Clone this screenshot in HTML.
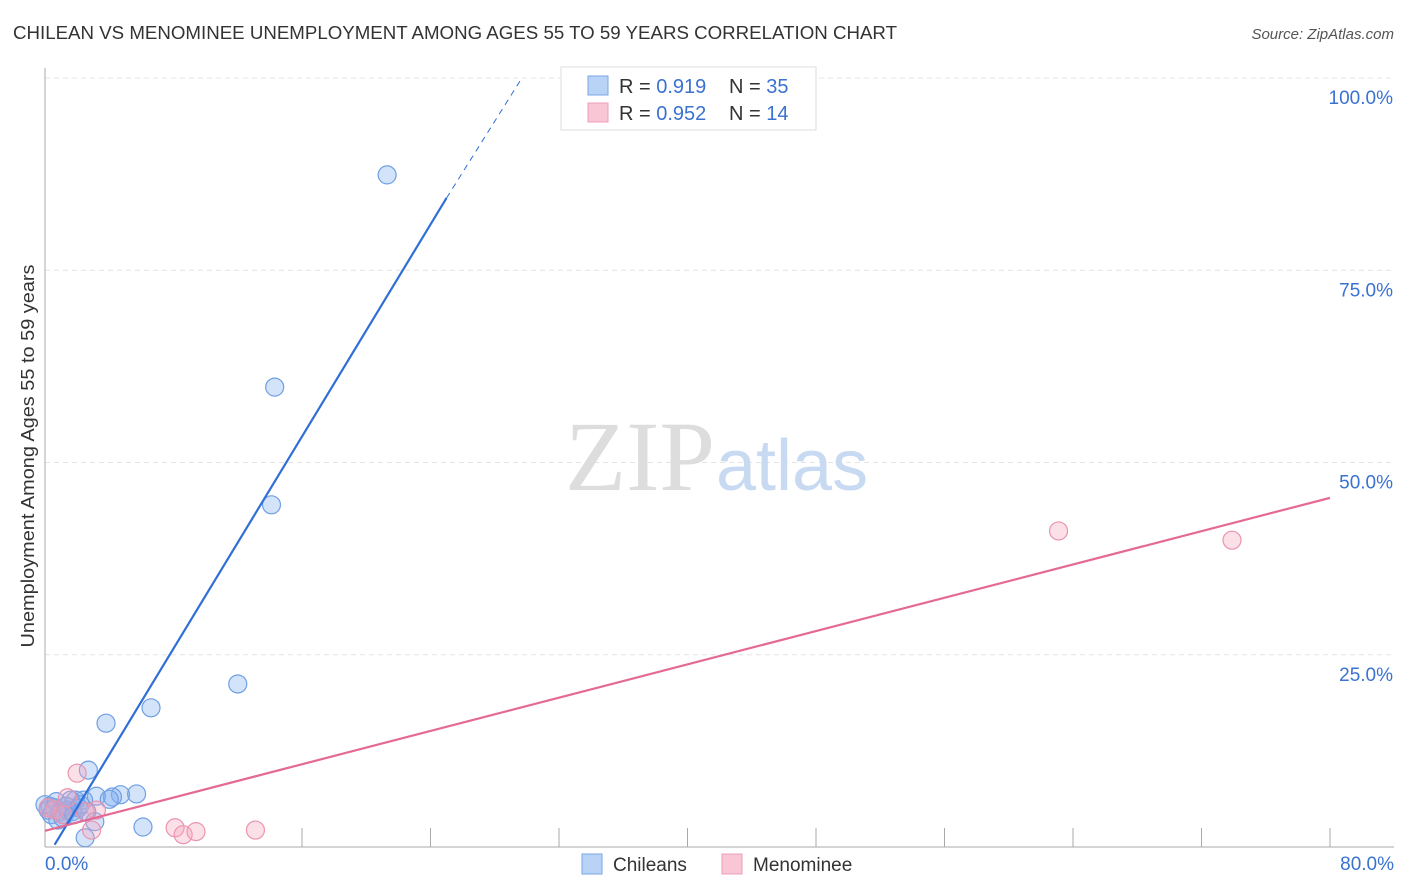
<!DOCTYPE html>
<html><head><meta charset="utf-8"><style>
body{margin:0;background:#fff;font-family:"Liberation Sans",sans-serif;}
svg{display:block}
</style></head><body>
<svg id="chart" width="1406" height="892">
<text x="13" y="39" font-size="18" fill="#333" textLength="884" lengthAdjust="spacingAndGlyphs">CHILEAN VS MENOMINEE UNEMPLOYMENT AMONG AGES 55 TO 59 YEARS CORRELATION CHART</text>
<text x="1394" y="39" font-size="15" fill="#555" font-style="italic" text-anchor="end">Source: ZipAtlas.com</text>
<text x="0" y="0" font-size="18" fill="#333" textLength="383" lengthAdjust="spacingAndGlyphs" transform="translate(34,456) rotate(-90)" text-anchor="middle">Unemployment Among Ages 55 to 59 years</text>
<g id="grid"></g>
<text x="715" y="490" font-size="100" fill="#ddd" text-anchor="end" font-family="Liberation Serif,serif">ZIP</text>
<text x="716" y="490" font-size="72" fill="#c8daf2">atlas</text>
<g id="marks"></g>
<g>
<rect x="561" y="67" width="255" height="63" fill="#fff" stroke="#ddd"/>
<rect x="588" y="76" width="20" height="19" fill="#b9d3f6" stroke="#7aa6e6"/>
<rect x="588" y="103" width="20" height="19" fill="#f9c6d5" stroke="#ee9fb7"/>
<text x="619" y="93" font-size="20" fill="#333">R = <tspan fill="#3a72d0">0.919</tspan><tspan x="729">N = </tspan><tspan fill="#3a72d0">35</tspan></text>
<text x="619" y="120" font-size="20" fill="#333">R = <tspan fill="#3a72d0">0.952</tspan><tspan x="729">N = </tspan><tspan fill="#3a72d0"> 14</tspan></text>
</g>
<g>
<rect x="582" y="854" width="20" height="20" fill="#b9d3f6" stroke="#7aa6e6"/>
<text x="613" y="871" font-size="19" fill="#333">Chileans</text>
<rect x="722" y="854" width="20" height="20" fill="#f9c6d5" stroke="#ee9fb7"/>
<text x="753" y="871" font-size="19" fill="#333">Menominee</text>
</g>
</svg>
<script>
const blueX=[21.3,14.3,14.1,12.0,6.6,3.8,2.7,5.7,4.7,4.2,3.2,4.0,2.4,1.9,1.6,6.1,3.1,2.5,0.3,0.6,0.9,1.2,0.2,0.4,0.8,1.1,1.4,1.7,2.1,0.0,0.7,1.3,1.8,2.2,2.6];
const blueY=[87.4,59.8,44.5,21.2,18.1,16.1,10.0,6.9,6.8,6.5,6.6,6.2,6.1,6.1,6.1,2.6,3.3,1.2,5.3,5.1,4.6,4.2,4.8,4.2,3.5,3.8,4.8,4.6,5.1,5.5,5.9,5.3,4.2,5.5,4.6];
const pinkX=[63.1,73.9,2.0,3.2,2.9,8.1,8.6,9.4,13.1,1.4,0.6,1.1,2.5,0.2];
const pinkY=[41.1,39.9,9.6,4.8,2.2,2.5,1.6,2.0,2.2,6.4,4.8,4.2,4.6,5.1];
const blueLine=[0.6,0.3,25.0,84.4,29.6,99.7];
const pinkLine=[0,2.1,80,45.4];
const yTicks=[100,75,50,25];
const xTickCount=10;
const X=v=>45+v/80*1285, Y=v=>847-v/100*769;
const NS='http://www.w3.org/2000/svg';
function mk(tag,attrs,parent){const e=document.createElementNS(NS,tag);for(const k in attrs)e.setAttribute(k,attrs[k]);parent.appendChild(e);return e;}
const grid=document.getElementById('grid'), marks=document.getElementById('marks');
yTicks.forEach(t=>{
 const l=mk('line',{x1:45,x2:1394,y1:Y(t),y2:Y(t),stroke:'#e4e4e4','stroke-dasharray':'5,4'},grid);
 
 
 const tx=mk('text',{x:1393,y:Y(t)+26,'font-size':19,fill:'#3a72d0','text-anchor':'end'},grid);
 tx.textContent=t.toFixed(1)+'%';
 
 
});
const ax=mk('line',{x1:45,x2:45,y1:68,y2:847,stroke:'#aaa'},grid);


const bx=mk('line',{x1:45,x2:1394,y1:847,y2:847,stroke:'#aaa'},grid);


for(let i=2;i<=xTickCount;i++){
 const v=i*80/xTickCount;
 const t=mk('line',{x1:X(v),x2:X(v),y1:828,y2:847,stroke:'#aaa'},grid);
 
 
}
[[0,'0.0%',45,'start'],[80,'80.0%',1394,'end']].forEach(a=>{
 const t=mk('text',{x:a[2],y:870,'font-size':19,fill:'#3a72d0','text-anchor':a[3]},grid);
 t.textContent=a[1];
 
 
});
blueX.forEach((x,i)=>{
 const c=mk('circle',{cx:X(x),cy:Y(blueY[i]),r:9,fill:'rgba(130,175,240,0.35)',stroke:'#6f9fe3','stroke-width':1.2},marks);
 
 
});
pinkX.forEach((x,i)=>{
 const c=mk('circle',{cx:X(x),cy:Y(pinkY[i]),r:9,fill:'rgba(245,165,190,0.35)',stroke:'#ea94ae','stroke-width':1.2},marks);
 
 
});
const bl=mk('line',{x1:X(blueLine[0]),y1:Y(blueLine[1]),x2:X(blueLine[2]),y2:Y(blueLine[3]),stroke:'#2f6fd6','stroke-width':2.2},marks);


const bd=mk('line',{x1:X(blueLine[2]),y1:Y(blueLine[3]),x2:X(blueLine[4]),y2:Y(blueLine[5]),stroke:'#2f6fd6','stroke-width':1,'stroke-dasharray':'6,5'},marks);


const pl=mk('line',{x1:X(pinkLine[0]),y1:Y(pinkLine[1]),x2:X(pinkLine[2]),y2:Y(pinkLine[3]),stroke:'#e56a93','stroke-width':2.2},marks);


</script>
</body></html>
